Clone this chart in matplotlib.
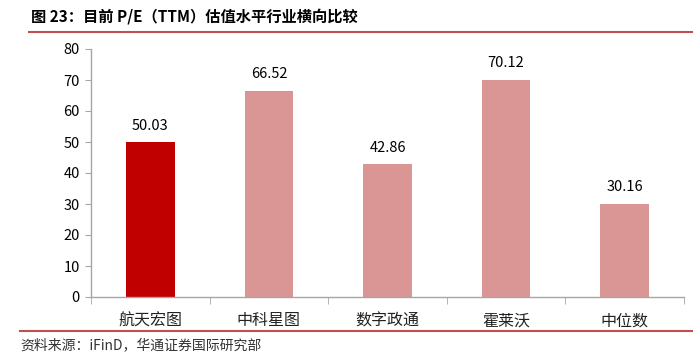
import matplotlib
matplotlib.use("Agg")
import matplotlib.pyplot as plt
from matplotlib.lines import Line2D

plt.rcParams['font.family'] = ['Noto Sans CJK SC', 'DejaVu Sans']

categories = ["航天宏图", "中科星图", "数字政通", "霍莱沃", "中位数"]
values = [50.03, 66.52, 42.86, 70.12, 30.16]
colors = ["#C00000", "#DA9694", "#DA9694", "#DA9694", "#DA9694"]
yticks = [0, 10, 20, 30, 40, 50, 60, 70, 80]
title = "图 23：目前 P/E（TTM）估值水平行业横向比较"
source = "资料来源：iFinD，华通证券国际研究部"

fig = plt.figure(figsize=(6.93, 3.58), dpi=100)
W, H = 693, 358
ax = fig.add_axes([91 / W, 1 - 297 / H, (684 - 91) / W, (297 - 49) / H])

x = list(range(len(categories)))
bars = ax.bar(x, values, width=0.41, color=colors, zorder=2)
for xi, v in zip(x, values):
    ax.text(xi, v + 3, f"{v:.2f}", ha='center', va='bottom', fontsize=10.5, color='#000000')

ax.set_xlim(-0.5, len(categories) - 0.5)
ax.set_ylim(0, 80)
ax.set_yticks(yticks)
ax.set_yticklabels([str(t) for t in yticks], fontsize=10.5)
ax.set_xticks(x)
ax.set_xticklabels(categories, fontsize=11.5, color='#222222')
ax.tick_params(axis='x', length=0, pad=11)
ax.tick_params(axis='y', length=4, color='#A6A6A6', pad=4)
ax.set_xticks([i + 0.5 for i in range(-1, len(categories))], minor=True)
ax.tick_params(axis='x', which='minor', length=5, color='#A6A6A6', direction='out')
for s in ['top', 'right']:
    ax.spines[s].set_visible(False)
for s in ['left', 'bottom']:
    ax.spines[s].set_color('#A6A6A6')
    ax.spines[s].set_linewidth(1)

fig.text(31 / W, 1 - 17 / H, title, fontsize=11, fontweight='bold', va='center', ha='left')
fig.add_artist(Line2D([29 / W, 1], [1 - 32 / H, 1 - 32 / H], color='#C0504D', lw=1.5))
fig.add_artist(Line2D([20 / W, 1], [1 - 331 / H, 1 - 331 / H], color='#C0504D', lw=1.5))
fig.text(20 / W, 1 - 345 / H, source, fontsize=10, va='center', ha='left', color='#333333')

fig.savefig("out.png", dpi=100)
